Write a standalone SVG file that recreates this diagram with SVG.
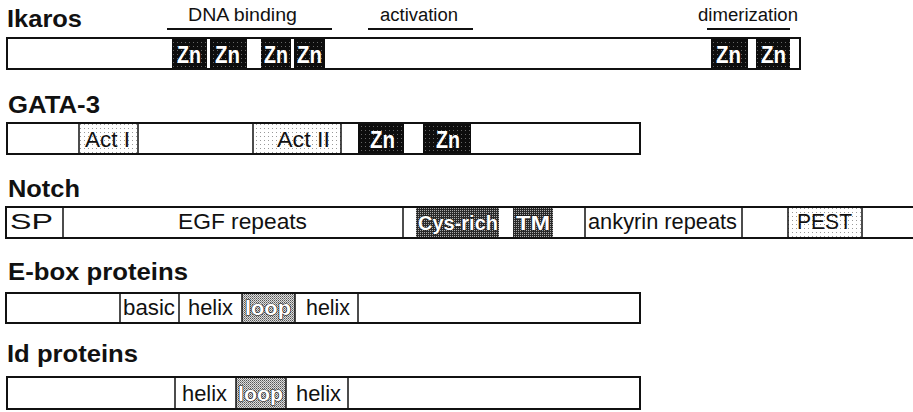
<svg xmlns="http://www.w3.org/2000/svg" width="913" height="412" viewBox="0 0 913 412">
<style>
.title{font-family:"Liberation Sans",Arial,sans-serif;font-weight:bold;font-size:24px;fill:#111}
.hdr{font-family:"Liberation Sans",Arial,sans-serif;font-size:18px;fill:#111}
.lbl{font-family:"Liberation Sans",Arial,sans-serif;font-size:22px;fill:#111}
.zn{font-family:"Liberation Sans",Arial,sans-serif;font-weight:bold;font-size:23px;fill:#fff}
.out{font-family:"Liberation Sans",Arial,sans-serif;font-weight:bold;font-size:21px;fill:#fff;stroke:#111;stroke-width:1.2;paint-order:stroke}
.bar{fill:#fff;stroke:none}
.frame{fill:none;stroke:#111;stroke-width:2}
.div{stroke:#111;stroke-width:1.5}
.ul{stroke:#111;stroke-width:1.8}
</style>
<defs>
<pattern id="pzn" width="4" height="4" patternUnits="userSpaceOnUse"><rect width="4" height="4" fill="#0d0d0d"/><rect x="1" y="2" width="1" height="1" fill="#666"/></pattern>
<pattern id="pdark" width="2" height="2" patternUnits="userSpaceOnUse"><rect width="2" height="2" fill="#2a2a2a"/><rect width="1" height="1" fill="#aaa"/></pattern>
<pattern id="pmid" width="2" height="2" patternUnits="userSpaceOnUse"><rect width="2" height="2" fill="#ddd"/><rect width="1" height="1" fill="#555"/><rect x="1" y="1" width="1" height="1" fill="#888"/></pattern>
<pattern id="plight" width="4" height="4" patternUnits="userSpaceOnUse"><rect width="4" height="4" fill="#fff"/><rect width="1" height="1" fill="#999"/></pattern>
</defs>

<g id="ikaros">
<text class="title" x="7" y="27" textLength="75" lengthAdjust="spacingAndGlyphs">Ikaros</text>
<text class="hdr" x="188" y="21" textLength="109" lengthAdjust="spacingAndGlyphs">DNA  binding</text>
<text class="hdr" x="380" y="21" textLength="78" lengthAdjust="spacingAndGlyphs">activation</text>
<text class="hdr" x="698" y="21" textLength="100" lengthAdjust="spacingAndGlyphs">dimerization</text>
<line class="ul" x1="167" y1="29" x2="332" y2="29"/>
<line class="ul" x1="368" y1="29" x2="473" y2="29"/>
<line class="ul" x1="707" y1="29" x2="790" y2="29"/>
<rect class="bar" x="7" y="38" width="793" height="31"/>
<rect x="172" y="38" width="35" height="31" fill="url(#pzn)"/>
<rect x="210" y="38" width="37" height="31" fill="url(#pzn)"/>
<rect x="261" y="38" width="30" height="31" fill="url(#pzn)"/>
<rect x="294" y="38" width="31" height="31" fill="url(#pzn)"/>
<rect x="711" y="38" width="37" height="31" fill="url(#pzn)"/>
<rect x="756" y="38" width="34" height="31" fill="url(#pzn)"/>
<rect class="frame" x="7" y="38" width="793" height="31"/>
<text class="zn" x="177" y="63" textLength="24" lengthAdjust="spacingAndGlyphs">Zn</text>
<text class="zn" x="215" y="63" textLength="25" lengthAdjust="spacingAndGlyphs">Zn</text>
<text class="zn" x="264" y="63" textLength="24" lengthAdjust="spacingAndGlyphs">Zn</text>
<text class="zn" x="297" y="63" textLength="25" lengthAdjust="spacingAndGlyphs">Zn</text>
<text class="zn" x="716" y="63" textLength="25" lengthAdjust="spacingAndGlyphs">Zn</text>
<text class="zn" x="761" y="63" textLength="25" lengthAdjust="spacingAndGlyphs">Zn</text>
</g>

<g id="gata3">
<text class="title" x="8" y="113" textLength="92" lengthAdjust="spacingAndGlyphs">GATA-3</text>
<rect class="bar" x="7" y="123" width="633" height="31"/>
<rect x="79" y="123" width="59" height="31" fill="url(#plight)"/>
<rect x="253" y="123" width="88" height="31" fill="url(#plight)"/>
<rect x="358" y="123" width="46" height="31" fill="url(#pzn)"/>
<rect x="423" y="123" width="48" height="31" fill="url(#pzn)"/>
<line class="div" x1="79" y1="123" x2="79" y2="154"/>
<line class="div" x1="138" y1="123" x2="138" y2="154"/>
<line class="div" x1="253" y1="123" x2="253" y2="154"/>
<line class="div" x1="341" y1="123" x2="341" y2="154"/>
<rect class="frame" x="7" y="123" width="633" height="31"/>
<text class="lbl" x="85" y="147" textLength="45" lengthAdjust="spacingAndGlyphs">Act I</text>
<text class="lbl" x="277" y="147" textLength="53" lengthAdjust="spacingAndGlyphs">Act II</text>
<text class="zn" x="370" y="148" textLength="25" lengthAdjust="spacingAndGlyphs">Zn</text>
<text class="zn" x="436" y="148" textLength="24" lengthAdjust="spacingAndGlyphs">Zn</text>
</g>

<g id="notch">
<text class="title" x="8" y="197" textLength="72" lengthAdjust="spacingAndGlyphs">Notch</text>
<rect class="bar" x="6" y="207" width="920" height="31"/>
<rect x="416" y="207" width="83" height="31" fill="url(#pdark)"/>
<rect x="513" y="207" width="40" height="31" fill="url(#pdark)"/>
<rect x="788" y="207" width="74" height="31" fill="url(#plight)"/>
<line class="div" x1="63" y1="207" x2="63" y2="238"/>
<line class="div" x1="403" y1="207" x2="403" y2="238"/>
<line class="div" x1="585" y1="207" x2="585" y2="238"/>
<line class="div" x1="742" y1="207" x2="742" y2="238"/>
<line class="div" x1="788" y1="207" x2="788" y2="238"/>
<line class="div" x1="862" y1="207" x2="862" y2="238"/>
<rect class="frame" x="6" y="207" width="920" height="31"/>
<text class="lbl" x="10" y="229" textLength="43" lengthAdjust="spacingAndGlyphs">SP</text>
<text class="lbl" x="178" y="229" textLength="129" lengthAdjust="spacingAndGlyphs">EGF  repeats</text>
<text class="out" x="418" y="230" textLength="80" lengthAdjust="spacingAndGlyphs">Cys-rich</text>
<text class="out" x="516" y="230" textLength="34" lengthAdjust="spacingAndGlyphs">TM</text>
<text class="lbl" x="588" y="229" textLength="149" lengthAdjust="spacingAndGlyphs">ankyrin repeats</text>
<text class="lbl" x="797" y="229" textLength="55" lengthAdjust="spacingAndGlyphs">PEST</text>
</g>

<g id="ebox">
<text class="title" x="8" y="280" textLength="180" lengthAdjust="spacingAndGlyphs">E-box proteins</text>
<rect class="bar" x="6" y="293" width="634" height="30"/>
<rect x="242" y="293" width="53" height="30" fill="url(#pmid)"/>
<line class="div" x1="120" y1="293" x2="120" y2="323"/>
<line class="div" x1="179" y1="293" x2="179" y2="323"/>
<line class="div" x1="242" y1="293" x2="242" y2="323"/>
<line class="div" x1="295" y1="293" x2="295" y2="323"/>
<line class="div" x1="358" y1="293" x2="358" y2="323"/>
<rect class="frame" x="6" y="293" width="634" height="30"/>
<text class="lbl" x="123" y="315" textLength="52" lengthAdjust="spacingAndGlyphs">basic</text>
<text class="lbl" x="188" y="315" textLength="45" lengthAdjust="spacingAndGlyphs">helix</text>
<text class="out" x="245" y="315" textLength="46" lengthAdjust="spacingAndGlyphs">loop</text>
<text class="lbl" x="306" y="315" textLength="44" lengthAdjust="spacingAndGlyphs">helix</text>
</g>

<g id="id">
<text class="title" x="7" y="362" textLength="131" lengthAdjust="spacingAndGlyphs">Id proteins</text>
<rect class="bar" x="7" y="377" width="633" height="32"/>
<rect x="236" y="377" width="50" height="32" fill="url(#pmid)"/>
<line class="div" x1="175" y1="377" x2="175" y2="409"/>
<line class="div" x1="236" y1="377" x2="236" y2="409"/>
<line class="div" x1="286" y1="377" x2="286" y2="409"/>
<line class="div" x1="348" y1="377" x2="348" y2="409"/>
<rect class="frame" x="7" y="377" width="633" height="32"/>
<text class="lbl" x="182" y="401" textLength="45" lengthAdjust="spacingAndGlyphs">helix</text>
<text class="out" x="238" y="401" textLength="45" lengthAdjust="spacingAndGlyphs">loop</text>
<text class="lbl" x="296" y="401" textLength="45" lengthAdjust="spacingAndGlyphs">helix</text>
</g>

<g id="connectors"/>
</svg>
